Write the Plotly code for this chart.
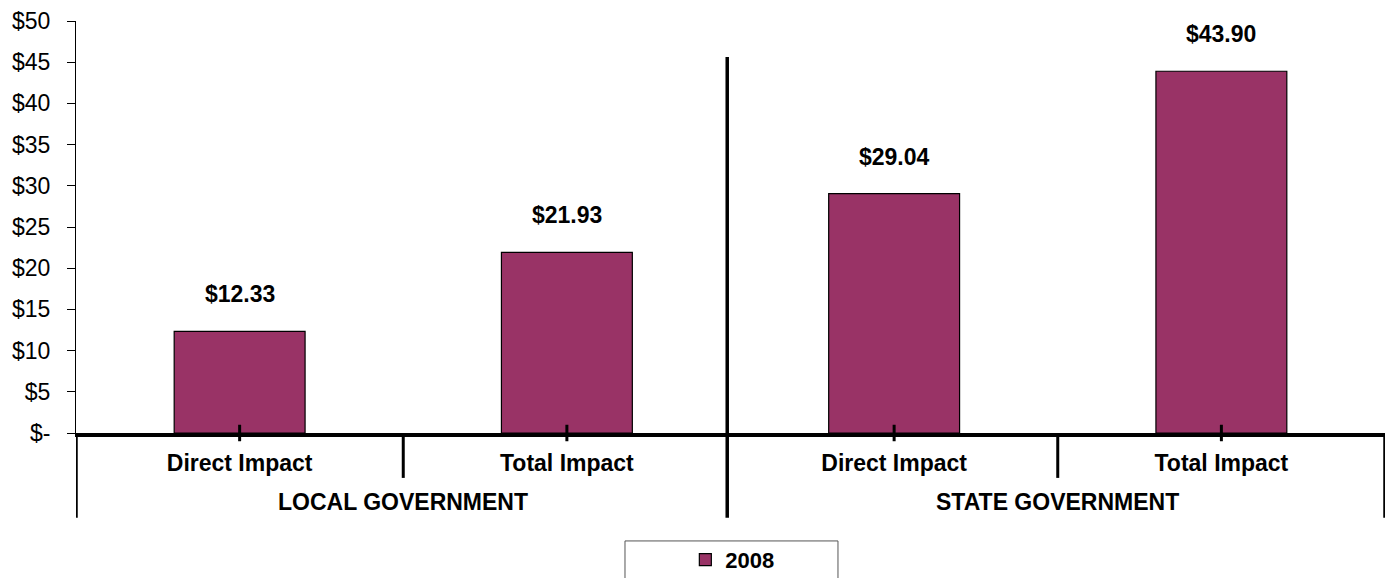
import plotly.graph_objects as go

# Values in US dollars
categories = ["Direct Impact", "Total Impact", "Direct Impact", "Total Impact"]
groups = ["LOCAL GOVERNMENT", "STATE GOVERNMENT"]
values_2008 = [12.33, 21.93, 29.04, 43.90]
series_name = "2008"
y_ticks = [0, 5, 10, 15, 20, 25, 30, 35, 40, 45, 50]
y_tick_labels = ["$-", "$5", "$10", "$15", "$20", "$25", "$30", "$35", "$40", "$45", "$50"]

FONT = "Liberation Sans, Arial, sans-serif"
BAR_COLOR = "#993366"
TXT = 23

x_pos = list(range(len(categories)))

fig = go.Figure()
fig.add_trace(go.Bar(
    x=x_pos,
    y=values_2008,
    name=series_name,
    width=0.4,
    marker=dict(color=BAR_COLOR, line=dict(color="#000000", width=1.2)),
    showlegend=True,
))

# Value labels above each bar
annotations = []
for xi, v in zip(x_pos, values_2008):
    annotations.append(dict(
        x=xi, y=v, xref="x", yref="y", text=f"<b>${v:.2f}</b>",
        showarrow=False, yanchor="middle", yshift=37,
        font=dict(family=FONT, size=TXT, color="#000000"),
    ))

# Group labels under the category labels
for gi, g in enumerate(groups):
    annotations.append(dict(
        x=gi * 2 + 0.5, y=-0.168, xref="x", yref="paper", text=f"<b>{g}</b>",
        showarrow=False, yanchor="middle",
        font=dict(family=FONT, size=TXT, color="#000000"),
    ))

line_black = dict(color="#000000", width=3.5)
shapes = []
# Separator between the two groups
shapes.append(dict(type="line", xref="x", yref="paper", x0=1.49, x1=1.49,
                   y0=-0.206, y1=0.9126, line=line_black))
# Outer edges of the category table
for xe in (-0.5, 3.5):
    shapes.append(dict(type="line", xref="x", yref="paper", x0=xe, x1=xe,
                       y0=0, y1=-0.206, line=line_black))
# Dividers between categories within a group
for xe in (0.5, 2.5):
    shapes.append(dict(type="line", xref="x", yref="paper", x0=xe, x1=xe,
                       y0=0, y1=-0.109, line=dict(color="#000000", width=3)))
# Category tick marks crossing the axis line
for xi in x_pos:
    shapes.append(dict(type="line", xref="x", yref="paper", x0=xi, x1=xi,
                       y0=-0.02, y1=0.02, line=dict(color="#000000", width=3)))
# Legend frame
shapes.append(dict(type="rect", xref="paper", yref="paper", x0=0.4194, x1=0.5821,
                   y0=-0.262, y1=-0.45, line=dict(color="#555555", width=1),
                   fillcolor="rgba(0,0,0,0)"))

fig.update_layout(
    width=1392, height=578,
    margin=dict(l=76, r=7, t=21, b=145, autoexpand=False),
    paper_bgcolor="#ffffff", plot_bgcolor="#ffffff",
    font=dict(family=FONT, color="#000000"),
    annotations=annotations,
    shapes=shapes,
    legend=dict(
        orientation="h", x=0.4655, xanchor="left", y=-0.308, yanchor="middle",
        font=dict(family=FONT, size=22, color="#000000", weight="bold"),
        bgcolor="rgba(0,0,0,0)", borderwidth=0, itemwidth=30,
    ),
    xaxis=dict(
        range=[-0.5, 3.5], tickvals=x_pos, ticktext=[f"<b>{c}</b>" for c in categories],
        showline=True, linecolor="#000000", linewidth=3.5, mirror=False,
        ticks="", ticklabelstandoff=7,
        tickfont=dict(family=FONT, size=TXT, color="#000000"),
        showgrid=False, zeroline=False, fixedrange=True,
    ),
    yaxis=dict(
        range=[0, 50], tickvals=y_ticks, ticktext=y_tick_labels,
        showline=True, linecolor="#000000", linewidth=1,
        ticks="outside", ticklen=8, tickwidth=1, tickcolor="#000000",
        ticklabelstandoff=12,
        tickfont=dict(family=FONT, size=TXT, color="#000000"),
        showgrid=False, zeroline=False, fixedrange=True,
    ),
)

fig.write_html("out.html")
